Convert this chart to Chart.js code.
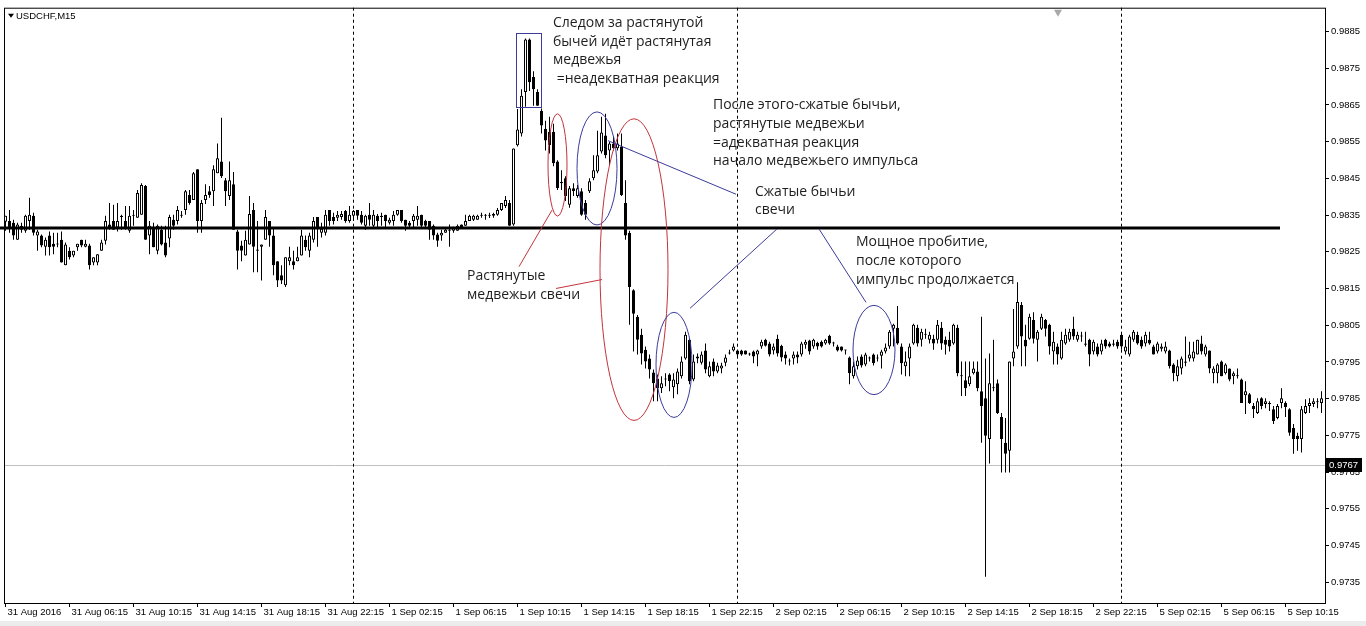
<!DOCTYPE html>
<html><head><meta charset="utf-8">
<script src="https://cdn.jsdelivr.net/npm/chart.js@4.4.1/dist/chart.umd.min.js"></script>
<style>html,body{margin:0;padding:0;background:#fff;overflow:hidden}canvas{display:block}</style>
</head><body>
<canvas id="c" width="1366" height="626"></canvas>
<script>
// ---- data (USDCHF M15, one value per bar) ----
const open = [
0.98332,0.98334,0.98329,0.98283,0.98321,0.98307,0.98334,0.98348,0.98294,0.98294,
0.98264,0.98294,0.98272,0.98272,0.98283,0.98213,0.98253,0.98240,0.98262,0.98283,
0.98264,0.98267,0.98221,0.98221,0.98253,0.98280,0.98324,0.98334,0.98316,0.98345,
0.98334,0.98307,0.98351,0.98343,0.98351,0.98429,0.98294,0.98316,0.98253,0.98310,
0.98275,0.98286,0.98337,0.98334,0.98348,0.98364,0.98405,0.98391,0.98475,0.98334,
0.98391,0.98415,0.98415,0.98464,0.98496,0.98445,0.98402,0.98434,0.98305,0.98267,
0.98240,0.98270,0.98364,0.98256,0.98264,0.98283,0.98334,0.98294,0.98224,0.98186,
0.98159,0.98224,0.98224,0.98224,0.98240,0.98283,0.98253,0.98283,0.98345,0.98302,
0.98302,0.98364,0.98345,0.98343,0.98345,0.98361,0.98334,0.98348,0.98364,0.98351,
0.98321,0.98351,0.98321,0.98348,0.98348,0.98351,0.98329,0.98334,0.98351,0.98364,
0.98337,0.98329,0.98334,0.98337,0.98351,0.98334,0.98334,0.98321,0.98297,0.98294,
0.98302,0.98307,0.98307,0.98307,0.98324,0.98321,0.98334,0.98337,0.98337,0.98348,
0.98351,0.98348,0.98348,0.98351,0.98364,0.98375,0.98383,0.98324,0.98540,0.98572,
0.98685,0.98828,0.98726,0.98685,0.98634,0.98585,0.98577,0.98577,0.98496,0.98437,
0.98450,0.98378,0.98423,0.98402,0.98415,0.98383,0.98415,0.98450,0.98469,0.98523,
0.98567,0.98526,0.98545,0.98532,0.98537,0.98383,0.98302,0.98145,0.98073,0.98024,
0.97983,0.97959,0.97921,0.97905,0.97878,0.97902,0.97916,0.97881,0.97889,0.97911,
0.97959,0.98010,0.97902,0.97959,0.97948,0.97981,0.97911,0.97951,0.97924,0.97932,
0.97948,0.97973,0.97981,0.97981,0.97981,0.97981,0.97970,0.97978,0.97970,0.97992,
0.98010,0.98000,0.97981,0.98013,0.97994,0.97970,0.97954,0.97959,0.97970,0.97970,
0.97997,0.98008,0.97992,0.98002,0.98005,0.98000,0.98021,0.98002,0.97992,0.97992,
0.97981,0.97962,0.97911,0.97938,0.97965,0.97943,0.97962,0.97970,0.97959,0.97967,
0.97978,0.97992,0.98040,0.98043,0.97992,0.97938,0.97959,0.98000,0.98043,0.98010,
0.98026,0.98010,0.98013,0.98010,0.98043,0.98010,0.98010,0.98000,0.98043,0.97911,
0.97900,0.97889,0.97919,0.97924,0.97870,0.97851,0.97740,0.97878,0.97892,0.97800,
0.97730,0.97708,0.97959,0.97992,0.98105,0.98010,0.98013,0.98064,0.98010,0.98040,
0.98064,0.98051,0.97978,0.97992,0.97959,0.98000,0.98010,0.98040,0.98010,0.98021,
0.98000,0.98010,0.97978,0.97992,0.97978,0.98010,0.98000,0.97997,0.98005,0.98024,
0.97978,0.97970,0.98010,0.98024,0.98010,0.98000,0.98010,0.97992,0.97978,0.97986,
0.97978,0.97981,0.97943,0.97911,0.97932,0.97948,0.97959,0.97959,0.97970,0.98000,
0.97970,0.97981,0.97919,0.97919,0.97951,0.97919,0.97932,0.97911,0.97913,0.97902,
0.97859,0.97862,0.97830,0.97811,0.97851,0.97835,0.97838,0.97821,0.97797,0.97838,
0.97838,0.97821,0.97770,0.97749,0.97740,0.97811,0.97830,0.97835,0.97843,0.97838];
const high = [
0.98348,0.98364,0.98337,0.98329,0.98329,0.98351,0.98397,0.98356,0.98310,0.98297,
0.98289,0.98305,0.98302,0.98302,0.98305,0.98275,0.98262,0.98253,0.98272,0.98283,
0.98283,0.98272,0.98235,0.98243,0.98283,0.98348,0.98383,0.98378,0.98383,0.98351,
0.98375,0.98375,0.98364,0.98418,0.98437,0.98432,0.98334,0.98329,0.98324,0.98321,
0.98321,0.98351,0.98351,0.98375,0.98361,0.98418,0.98418,0.98467,0.98475,0.98391,
0.98434,0.98429,0.98486,0.98545,0.98615,0.98451,0.98496,0.98467,0.98310,0.98280,
0.98307,0.98402,0.98383,0.98334,0.98270,0.98364,0.98334,0.98313,0.98224,0.98213,
0.98235,0.98264,0.98253,0.98264,0.98310,0.98294,0.98302,0.98345,0.98345,0.98329,
0.98364,0.98364,0.98356,0.98361,0.98361,0.98364,0.98375,0.98364,0.98364,0.98361,
0.98351,0.98383,0.98364,0.98353,0.98356,0.98351,0.98343,0.98361,0.98364,0.98364,
0.98337,0.98334,0.98353,0.98375,0.98351,0.98337,0.98334,0.98324,0.98302,0.98310,
0.98316,0.98324,0.98318,0.98324,0.98324,0.98351,0.98351,0.98351,0.98351,0.98356,
0.98353,0.98356,0.98356,0.98369,0.98383,0.98402,0.98391,0.98531,0.98639,0.98693,
0.98831,0.98831,0.98742,0.98693,0.98640,0.98607,0.98618,0.98599,0.98499,0.98472,
0.98456,0.98429,0.98437,0.98432,0.98423,0.98391,0.98450,0.98513,0.98580,0.98618,
0.98626,0.98550,0.98564,0.98572,0.98572,0.98445,0.98307,0.98148,0.98078,0.98040,
0.97992,0.97970,0.97929,0.97916,0.97911,0.97919,0.97919,0.97919,0.97932,0.97965,
0.98032,0.98013,0.97970,0.97973,0.97978,0.98000,0.97951,0.97959,0.97948,0.97948,
0.97970,0.97983,0.98000,0.97983,0.97983,0.97981,0.97975,0.97981,0.97983,0.98010,
0.98013,0.98005,0.98000,0.98024,0.97997,0.97978,0.97959,0.97978,0.97978,0.98005,
0.98010,0.98010,0.98013,0.98005,0.98008,0.98013,0.98024,0.98005,0.97997,0.97992,
0.97983,0.97965,0.97951,0.97965,0.97970,0.97975,0.97965,0.97973,0.97970,0.97983,
0.98000,0.98037,0.98054,0.98102,0.98000,0.97978,0.98000,0.98054,0.98051,0.98040,
0.98040,0.98032,0.98024,0.98064,0.98059,0.98019,0.98032,0.98054,0.98051,0.97951,
0.97951,0.97951,0.97951,0.97951,0.98073,0.97959,0.97973,0.98010,0.97902,0.97811,
0.97797,0.97951,0.98094,0.98167,0.98113,0.98051,0.98081,0.98085,0.98037,0.98081,
0.98067,0.98054,0.98032,0.98000,0.98032,0.98040,0.98040,0.98073,0.98032,0.98032,
0.98032,0.98013,0.98010,0.98000,0.98010,0.98013,0.98005,0.98010,0.98010,0.98027,
0.98010,0.98024,0.98037,0.98032,0.98019,0.98032,0.98032,0.97997,0.98005,0.98000,
0.98005,0.97983,0.97946,0.97956,0.97965,0.98019,0.98005,0.98005,0.98010,0.98021,
0.97997,0.97981,0.97938,0.97946,0.97954,0.97946,0.97932,0.97924,0.97932,0.97905,
0.97897,0.97865,0.97838,0.97851,0.97854,0.97851,0.97843,0.97830,0.97835,0.97878,
0.97843,0.97824,0.97781,0.97757,0.97830,0.97848,0.97851,0.97851,0.97851,0.97870];
const low = [
0.98307,0.98302,0.98283,0.98283,0.98302,0.98302,0.98310,0.98294,0.98253,0.98262,
0.98240,0.98240,0.98243,0.98262,0.98221,0.98213,0.98229,0.98235,0.98253,0.98262,
0.98262,0.98202,0.98213,0.98213,0.98253,0.98270,0.98310,0.98310,0.98305,0.98310,
0.98310,0.98302,0.98321,0.98343,0.98351,0.98283,0.98243,0.98262,0.98243,0.98267,
0.98235,0.98262,0.98310,0.98324,0.98343,0.98351,0.98378,0.98391,0.98302,0.98302,
0.98380,0.98397,0.98375,0.98464,0.98451,0.98375,0.98391,0.98310,0.98202,0.98224,
0.98240,0.98270,0.98194,0.98194,0.98172,0.98283,0.98264,0.98186,0.98154,0.98162,
0.98154,0.98213,0.98202,0.98224,0.98240,0.98253,0.98235,0.98275,0.98264,0.98289,
0.98294,0.98321,0.98324,0.98334,0.98337,0.98329,0.98329,0.98334,0.98337,0.98324,
0.98310,0.98321,0.98316,0.98316,0.98321,0.98316,0.98324,0.98321,0.98348,0.98329,
0.98307,0.98316,0.98316,0.98321,0.98316,0.98316,0.98283,0.98283,0.98264,0.98280,
0.98302,0.98264,0.98302,0.98307,0.98316,0.98321,0.98334,0.98334,0.98337,0.98343,
0.98337,0.98342,0.98343,0.98348,0.98361,0.98369,0.98321,0.98321,0.98537,0.98564,
0.98645,0.98688,0.98648,0.98648,0.98572,0.98526,0.98518,0.98483,0.98418,0.98418,
0.98388,0.98370,0.98402,0.98397,0.98348,0.98337,0.98410,0.98445,0.98464,0.98518,
0.98505,0.98486,0.98526,0.98526,0.98402,0.98283,0.98051,0.97978,0.97970,0.97943,
0.97932,0.97905,0.97843,0.97843,0.97865,0.97884,0.97870,0.97851,0.97862,0.97905,
0.97956,0.97889,0.97897,0.97946,0.97943,0.97919,0.97908,0.97911,0.97919,0.97919,
0.97938,0.97970,0.97978,0.97965,0.97967,0.97970,0.97967,0.97946,0.97938,0.97986,
0.97992,0.97965,0.97970,0.97965,0.97951,0.97943,0.97940,0.97943,0.97946,0.97965,
0.97986,0.97970,0.97986,0.97983,0.97989,0.97997,0.97997,0.97992,0.97978,0.97978,
0.97970,0.97889,0.97905,0.97929,0.97935,0.97938,0.97951,0.97940,0.97951,0.97932,
0.97973,0.97986,0.97992,0.97997,0.97916,0.97911,0.97911,0.97997,0.97992,0.97992,
0.98013,0.98000,0.97983,0.98000,0.97983,0.97970,0.97978,0.97997,0.97911,0.97857,
0.97857,0.97884,0.97916,0.97870,0.97730,0.97365,0.97673,0.97870,0.97808,0.97649,
0.97649,0.97649,0.97938,0.97986,0.97938,0.97938,0.98010,0.98000,0.97951,0.98037,
0.98019,0.97970,0.97943,0.97943,0.97956,0.97997,0.98005,0.98010,0.98005,0.98005,
0.97992,0.97938,0.97970,0.97965,0.97970,0.97986,0.97989,0.97992,0.97986,0.97983,
0.97970,0.97965,0.98005,0.97997,0.97986,0.97992,0.97997,0.97970,0.97973,0.97978,
0.97973,0.97932,0.97897,0.97897,0.97916,0.97938,0.97951,0.97951,0.97970,0.97970,
0.97965,0.97919,0.97892,0.97892,0.97911,0.97916,0.97897,0.97889,0.97905,0.97838,
0.97808,0.97835,0.97797,0.97808,0.97821,0.97824,0.97816,0.97781,0.97794,0.97824,
0.97800,0.97749,0.97700,0.97708,0.97703,0.97808,0.97811,0.97827,0.97824,0.97811];
const close = [
0.98348,0.98316,0.98294,0.98324,0.98310,0.98348,0.98351,0.98302,0.98305,0.98267,
0.98283,0.98262,0.98264,0.98270,0.98221,0.98270,0.98235,0.98253,0.98272,0.98267,
0.98272,0.98213,0.98235,0.98243,0.98275,0.98334,0.98316,0.98310,0.98334,0.98348,
0.98316,0.98348,0.98348,0.98410,0.98432,0.98283,0.98321,0.98262,0.98321,0.98270,
0.98240,0.98345,0.98321,0.98364,0.98351,0.98415,0.98383,0.98464,0.98334,0.98383,
0.98405,0.98405,0.98475,0.98505,0.98456,0.98415,0.98445,0.98310,0.98253,0.98253,
0.98283,0.98353,0.98264,0.98253,0.98270,0.98345,0.98294,0.98213,0.98172,0.98172,
0.98235,0.98235,0.98213,0.98235,0.98294,0.98262,0.98294,0.98334,0.98313,0.98313,
0.98351,0.98334,0.98334,0.98351,0.98353,0.98334,0.98351,0.98361,0.98348,0.98329,
0.98348,0.98337,0.98351,0.98334,0.98345,0.98334,0.98337,0.98351,0.98364,0.98334,
0.98321,0.98321,0.98348,0.98348,0.98321,0.98321,0.98310,0.98294,0.98280,0.98302,
0.98310,0.98310,0.98316,0.98321,0.98316,0.98334,0.98348,0.98348,0.98348,0.98351,
0.98348,0.98348,0.98353,0.98364,0.98383,0.98391,0.98321,0.98531,0.98583,0.98675,
0.98828,0.98712,0.98693,0.98648,0.98594,0.98553,0.98540,0.98491,0.98424,0.98440,
0.98402,0.98423,0.98415,0.98423,0.98351,0.98351,0.98442,0.98472,0.98513,0.98575,
0.98513,0.98545,0.98532,0.98545,0.98405,0.98294,0.98154,0.98081,0.98010,0.97973,
0.97951,0.97929,0.97892,0.97878,0.97892,0.97905,0.97897,0.97902,0.97924,0.97951,
0.98024,0.97897,0.97951,0.97965,0.97970,0.97929,0.97938,0.97924,0.97940,0.97940,
0.97962,0.97975,0.97992,0.97970,0.97970,0.97970,0.97970,0.97965,0.97981,0.98005,
0.97994,0.97970,0.97992,0.97973,0.97962,0.97959,0.97951,0.97970,0.97962,0.98000,
0.98005,0.97978,0.98010,0.97992,0.97992,0.98010,0.98000,0.98000,0.97981,0.97981,
0.97981,0.97919,0.97938,0.97954,0.97940,0.97970,0.97959,0.97946,0.97962,0.97978,
0.97989,0.98032,0.98051,0.98000,0.97946,0.97951,0.97992,0.98051,0.98000,0.98032,
0.98024,0.98024,0.98000,0.98051,0.98000,0.97997,0.97992,0.98051,0.97919,0.97913,
0.97878,0.97911,0.97932,0.97878,0.97830,0.97749,0.97892,0.97881,0.97811,0.97740,
0.97700,0.97951,0.97978,0.98113,0.98019,0.97992,0.98073,0.98013,0.98032,0.98073,
0.98040,0.97992,0.98005,0.97970,0.98010,0.98024,0.98032,0.98019,0.98024,0.98019,
0.97997,0.97970,0.98005,0.97970,0.98000,0.97992,0.97992,0.98000,0.97992,0.97992,
0.97992,0.98019,0.98032,0.98000,0.97992,0.98024,0.98000,0.97970,0.98000,0.97992,
0.97992,0.97938,0.97919,0.97938,0.97959,0.97951,0.97970,0.97978,0.98010,0.97978,
0.97992,0.97932,0.97932,0.97943,0.97911,0.97943,0.97902,0.97919,0.97911,0.97838,
0.97870,0.97838,0.97821,0.97843,0.97830,0.97843,0.97835,0.97789,0.97830,0.97851,
0.97827,0.97757,0.97740,0.97740,0.97821,0.97830,0.97838,0.97843,0.97840,0.97851];

const timeTickIndex = [0,16,32,48,64,80,96,112,128,144,160,176,192,208,224,240,256,272,288,304,320];
const timeTickLabels = ['31 Aug 2016','31 Aug 06:15','31 Aug 10:15','31 Aug 14:15','31 Aug 18:15','31 Aug 22:15',
  '1 Sep 02:15','1 Sep 06:15','1 Sep 10:15','1 Sep 14:15','1 Sep 18:15','1 Sep 22:15',
  '2 Sep 02:15','2 Sep 06:15','2 Sep 10:15','2 Sep 14:15','2 Sep 18:15','2 Sep 22:15',
  '5 Sep 02:15','5 Sep 06:15','5 Sep 10:15'];
const priceTicks = [0.9735,0.9745,0.9755,0.9765,0.9775,0.9785,0.9795,0.9805,0.9815,0.9825,0.9835,0.9845,0.9855,0.9865,0.9875,0.9885];
const daySeparators = [87,183,279];
const levelPrice = 0.98315;
const levelFrom = -1.375, levelTo = 318.625;
const bidPrice = 0.9767;
const symbolTitle = 'USDCHF,M15';

// ---- annotations (in bar-index / price coordinates) ----
const noteTexts = [
  {k:136.875, p:0.988732, lines:['Следом за растянутой','бычей идёт растянутая','медвежья',' =неадекватная реакция']},
  {k:176.875, p:0.986489, lines:['После этого-сжатые бычьи,','растянутые медвежьи','=адекватная реакция','начало медвежьего импульса']},
  {k:187.375, p:0.984138, lines:['Сжатые бычьи','свечи']},
  {k:115.375, p:0.981840, lines:['Растянутые','медвежьи свечи']},
  {k:212.625, p:0.982759, lines:['Мощное пробитие,','после которого','импульс продолжается']}
];
const noteBoxes = [{k1:127.625, k2:133.875, p1:0.988473, p2:0.986446, tone:'blue'}];
const noteEllipses = [
  {k:138.0,   p:0.984865, rk:2.375, rp:0.001392, tone:'red'},
  {k:147.875, p:0.984770, rk:5.0,   rp:0.001541, tone:'blue'},
  {k:157.125, p:0.982014, rk:8.5,   rp:0.004108, tone:'red'},
  {k:167.125, p:0.979419, rk:4.5,   rp:0.001432, tone:'blue'},
  {k:217.125, p:0.979824, rk:5.25,  rp:0.001216, tone:'blue'}
];
const noteLines = [
  {k1:128.375, p1:0.982095, k2:136.625, p2:0.983635, tone:'red'},
  {k1:137.625, p1:0.981500, k2:149.125, p2:0.981743, tone:'red'},
  {k1:150.625, p1:0.985527, k2:182.625, p2:0.984068, tone:'blue'},
  {k1:171.125, p1:0.980959, k2:192.875, p2:0.983122, tone:'blue'},
  {k1:203.375, p1:0.983122, k2:215.125, p2:0.981122, tone:'blue'}
];
const tones = {red:'#c4343c', blue:'#3c3c9c'};

// ---- build datasets ----
const wickData = open.map((o,i)=>({x:i, y:[low[i], high[i]]}));
const bodyData = open.map((o,i)=>({x:i, y:[o, close[i]]}));
const bodyFill = open.map((o,i)=> close[i] >= o ? '#ffffff' : '#000000');

const AXIS_FONT = {family:'Liberation Sans, Arial, sans-serif', size:9.5};

const overlay = {
  id:'mtOverlay',
  beforeDraw(chart){
    const c = chart.ctx;
    c.save(); c.fillStyle='#ffffff'; c.fillRect(0,0,chart.width,chart.height);
    c.fillStyle='#ececec'; c.fillRect(0,621,chart.width,5);
    c.restore();
  },
  beforeDatasetsDraw(chart){
    const {ctx, chartArea:a, scales:{x,y}} = chart;
    ctx.save();
    const by = Math.round(y.getPixelForValue(bidPrice)) + 0.5;
    ctx.strokeStyle='#c0c0c0'; ctx.lineWidth=1;
    ctx.beginPath(); ctx.moveTo(a.left, by); ctx.lineTo(a.right, by); ctx.stroke();
    ctx.strokeStyle='#000'; ctx.setLineDash([3,3]);
    daySeparators.forEach(k=>{
      const px = x.getPixelForValue(k);
      ctx.beginPath(); ctx.moveTo(px, a.top); ctx.lineTo(px, a.bottom); ctx.stroke();
    });
    ctx.restore();
  },
  afterDatasetsDraw(chart){
    const {ctx, chartArea:a, scales:{x,y}} = chart;
    ctx.save();
    const ly = y.getPixelForValue(levelPrice);
    ctx.strokeStyle='#000'; ctx.lineWidth=3;
    ctx.beginPath(); ctx.moveTo(x.getPixelForValue(levelFrom), ly); ctx.lineTo(x.getPixelForValue(levelTo), ly); ctx.stroke();
    ctx.lineWidth=1;
    noteBoxes.forEach(b=>{
      ctx.strokeStyle=tones[b.tone];
      const x1=x.getPixelForValue(b.k1), x2=x.getPixelForValue(b.k2);
      const y1=y.getPixelForValue(b.p1), y2=y.getPixelForValue(b.p2);
      ctx.strokeRect(Math.round(x1)+0.5, Math.round(y1)+0.5, Math.round(x2-x1), Math.round(y2-y1));
    });
    noteEllipses.forEach(e=>{
      ctx.strokeStyle=tones[e.tone];
      const cx=x.getPixelForValue(e.k), cy=y.getPixelForValue(e.p);
      const rx=Math.abs(x.getPixelForValue(e.k+e.rk)-cx), ry=Math.abs(y.getPixelForValue(e.p+e.rp)-cy);
      ctx.beginPath(); ctx.ellipse(cx, cy, rx, ry, 0, 0, Math.PI*2); ctx.stroke();
    });
    noteLines.forEach(l=>{
      ctx.strokeStyle=tones[l.tone];
      ctx.beginPath();
      ctx.moveTo(x.getPixelForValue(l.k1), y.getPixelForValue(l.p1));
      ctx.lineTo(x.getPixelForValue(l.k2), y.getPixelForValue(l.p2));
      ctx.stroke();
    });
    ctx.fillStyle='#1e1e1e'; ctx.font='14px "Open Sans", "Noto Sans", sans-serif';
    ctx.textAlign='left'; ctx.textBaseline='middle';
    noteTexts.forEach(t=>{
      const tx=x.getPixelForValue(t.k), ty=y.getPixelForValue(t.p);
      t.lines.forEach((s,i)=> ctx.fillText(s, tx, ty + i*18.7));
    });
    ctx.strokeStyle='#000'; ctx.lineWidth=1;
    ctx.strokeRect(a.left+0.5, a.top+0.5, a.right-a.left, a.bottom-a.top);
    ctx.restore();
  },
  afterDraw(chart){
    const {ctx, chartArea:a, scales:{x,y}} = chart;
    ctx.save();
    const by = Math.round(y.getPixelForValue(bidPrice));
    ctx.fillStyle='#000'; ctx.fillRect(a.right+1, by-7, 36, 14);
    ctx.fillStyle='#fff'; ctx.font='9.5px "Liberation Sans", Arial, sans-serif';
    ctx.textAlign='left'; ctx.textBaseline='middle';
    ctx.fillText(bidPrice.toFixed(4), a.right+4, by);
    ctx.fillStyle='#000';
    ctx.beginPath(); ctx.moveTo(a.left+4, a.top+6); ctx.lineTo(a.left+10, a.top+6); ctx.lineTo(a.left+7, a.top+10); ctx.closePath(); ctx.fill();
    ctx.font='9.5px "Liberation Sans", Arial, sans-serif';
    ctx.fillText(symbolTitle, a.left+12, a.top+8.5);
    const sx = Math.round(x.getPixelForValue(263));
    ctx.fillStyle='#a8a8a8';
    ctx.beginPath(); ctx.moveTo(sx-4, a.top+2); ctx.lineTo(sx+4, a.top+2); ctx.lineTo(sx, a.top+9); ctx.closePath(); ctx.fill();
    ctx.restore();
  }
};

new Chart(document.getElementById('c').getContext('2d'), {
  type:'bar',
  data:{datasets:[
    {label:'wick', data:wickData, backgroundColor:'#000', borderWidth:0, barThickness:1, grouped:false, order:2, inflateAmount:0},
    {label:'body', data:bodyData, backgroundColor:bodyFill, borderColor:'#000', borderWidth:1, borderSkipped:false,
     barThickness:3, grouped:false, order:1, minBarLength:1, inflateAmount:0}
  ]},
  options:{
    responsive:false, animation:false, devicePixelRatio:1,
    layout:{padding:{left:4, top:3, right:0, bottom:0}},
    plugins:{legend:{display:false}, tooltip:{enabled:false}},
    scales:{
      x:{type:'linear', min:-0.375, max:329.875, offset:false, position:'bottom',
        afterBuildTicks:s=>{ s.ticks = timeTickIndex.map(v=>({value:v})); },
        afterFit:s=>{ s.height = 23; },
        ticks:{autoSkip:false, maxRotation:0, minRotation:0, align:'start', padding:0, labelOffset:2,
          font:AXIS_FONT, color:'#000', callback:(v,i)=> timeTickLabels[i]},
        grid:{drawOnChartArea:false, drawTicks:true, tickLength:4, color:'#000', offset:false},
        border:{display:false}
      },
      y:{type:'linear', position:'right', min:0.972932, max:0.989149,
        afterBuildTicks:s=>{ s.ticks = priceTicks.map(v=>({value:v})); },
        afterFit:s=>{ s.width = 41; },
        ticks:{padding:2, font:AXIS_FONT, color:'#000', callback:v=> Number(v).toFixed(4)},
        grid:{drawOnChartArea:false, drawTicks:true, tickLength:4, color:'#000'},
        border:{display:false}
      }
    }
  },
  plugins:[overlay]
});
</script>
</body></html>
